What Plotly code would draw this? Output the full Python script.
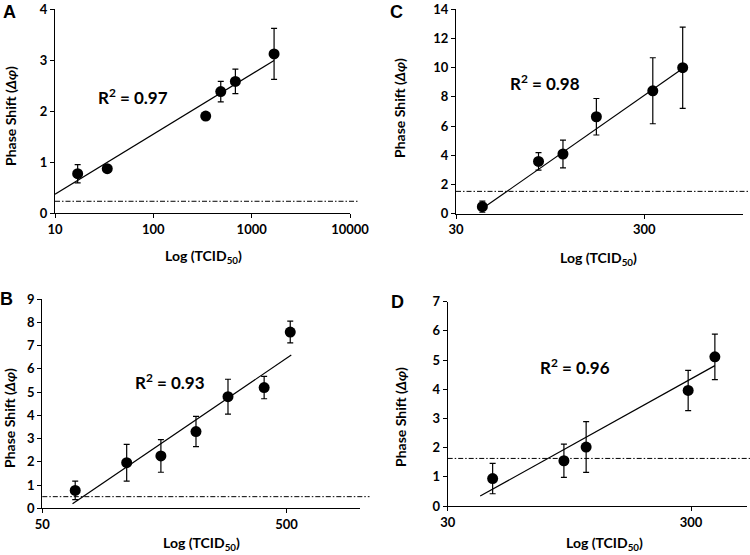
import plotly.graph_objects as go

# ---------------- data ----------------
A_tcid = [17, 34, 341, 485, 683, 1690]
A_shift = [0.77, 0.87, 1.90, 2.38, 2.58, 3.12]
A_err = [0.18, 0.03, 0.03, 0.20, 0.24, 0.50]
A_trend_x = [10, 1690]
A_trend_y = [0.37, 2.99]
A_cutoff = 0.23
A_ticks = [10, 100, 1000, 10000]

C_tcid = [41.4, 82.3, 111, 167, 333, 480]
C_shift = [0.48, 3.58, 4.09, 6.64, 8.42, 10.0]
C_err = [0.38, 0.60, 0.95, 1.25, 2.26, 2.78]
C_trend_x = [41.4, 480]
C_trend_y = [0.35, 9.95]
C_cutoff = 1.53
C_ticks = [30, 300]

B_tcid = [68.2, 110.8, 153, 213, 288, 405, 518]
B_shift = [0.77, 1.96, 2.25, 3.30, 4.80, 5.19, 7.58]
B_err = [0.40, 0.79, 0.70, 0.65, 0.75, 0.48, 0.47]
B_trend_x = [66.5, 523]
B_trend_y = [0.20, 6.59]
B_cutoff = 0.50
B_ticks = [50, 500]

D_tcid = [45.9, 90.1, 111.2, 292, 376]
D_shift = [0.94, 1.55, 2.02, 3.96, 5.11]
D_err = [0.52, 0.57, 0.87, 0.69, 0.78]
D_trend_x = [40.8, 376]
D_trend_y = [0.34, 4.81]
D_cutoff = 1.63
D_ticks = [30, 300]

r2_labels = ["R<sup>2</sup> = 0.97", "R<sup>2</sup> = 0.98", "R<sup>2</sup> = 0.93", "R<sup>2</sup> = 0.96"]
panel_letters = ["A", "C", "B", "D"]

W, H = 750, 555
FONT = "Lato"

panels = [
    dict(x=A_tcid, y=A_shift, e=A_err, tx=A_trend_x, ty=A_trend_y, cut=A_cutoff, ticks=A_ticks,
         xr=[1, 4], yr=[0, 4], dt=1, box=(55, 350, 9, 213),
         r2=(133, 96), letter=(9, 12), ytitle=(11, 116), xtitle=(203, 257)),
    dict(x=C_tcid, y=C_shift, e=C_err, tx=C_trend_x, ty=C_trend_y, cut=C_cutoff, ticks=C_ticks,
         xr=[1.4771, 3.0], yr=[0, 14], dt=2, box=(456, 742.7, 9.3, 213.7),
         r2=(545, 82), letter=(396, 12), ytitle=(399, 108), xtitle=(598, 258)),
    dict(x=B_tcid, y=B_shift, e=B_err, tx=B_trend_x, ty=B_trend_y, cut=B_cutoff, ticks=B_ticks,
         xr=[1.699, 3.0], yr=[0, 9], dt=1, box=(42.3, 360, 299, 508.3),
         r2=(170, 381), letter=(6, 299), ytitle=(9, 418), xtitle=(202, 543)),
    dict(x=D_tcid, y=D_shift, e=D_err, tx=D_trend_x, ty=D_trend_y, cut=D_cutoff, ticks=D_ticks,
         xr=[1.4771, 2.706], yr=[0, 7], dt=1, box=(447.7, 746.7, 301.7, 506),
         r2=(575, 366), letter=(398, 302), ytitle=(400, 417), xtitle=(604, 543)),
]

fig = go.Figure()
annotations = []
shapes = []
layout = {}


def ann(text, px, py, font, angle=0):
    return dict(text=text, x=px / W, y=1 - py / H, xref="paper", yref="paper",
                xanchor="center", yanchor="middle", showarrow=False, textangle=angle, font=font)


for i, p in enumerate(panels):
    n = "" if i == 0 else str(i + 1)
    xa, ya = "x" + n, "y" + n
    x0, x1, yt, yb = p["box"]
    fig.add_trace(go.Scatter(
        x=p["tx"], y=p["ty"], mode="lines", xaxis=xa, yaxis=ya,
        line=dict(color="black", width=1.2), showlegend=False, hoverinfo="skip"))
    fig.add_trace(go.Scatter(
        x=p["x"], y=p["y"], mode="markers", xaxis=xa, yaxis=ya,
        marker=dict(color="black", size=11),
        error_y=dict(type="data", array=p["e"], visible=True, color="black", thickness=1.2, width=3),
        showlegend=False))
    layout["xaxis" + n] = dict(
        type="log", range=p["xr"], domain=[x0 / W, x1 / W], anchor=ya, automargin=False,
        tickvals=p["ticks"], ticktext=[str(t) for t in p["ticks"]],
        showgrid=False, zeroline=False, showline=True, linecolor="black", linewidth=1.2,
        ticks="outside", ticklen=4, tickcolor="black",
        tickfont=dict(family=FONT, size=13, color="black", weight="bold"))
    layout["yaxis" + n] = dict(
        range=p["yr"], dtick=p["dt"], domain=[1 - yb / H, 1 - yt / H], anchor=xa, automargin=False,
        showgrid=False, zeroline=False, showline=True, linecolor="black", linewidth=1.2,
        ticks="outside", ticklen=4, tickcolor="black",
        tickfont=dict(family=FONT, size=13, color="black", weight="bold"))
    shapes.append(dict(type="line", xref=xa + " domain", yref=ya, x0=0, x1=1.03,
                       y0=p["cut"], y1=p["cut"],
                       line=dict(color="black", width=1, dash="5px,2px,1.5px,2px")))
    annotations.append(ann(r2_labels[i], *p["r2"], dict(family=FONT, size=17, color="black", weight="bold")))
    annotations.append(ann(panel_letters[i], *p["letter"],
                           dict(family="Liberation Sans", size=18, color="black", weight="bold")))
    annotations.append(ann("Phase Shift (<i>Δφ</i>)", *p["ytitle"],
                           dict(family=FONT, size=14, color="black", weight="bold"), angle=-90))
    annotations.append(ann("Log (TCID<sub>50</sub>)", *p["xtitle"],
                           dict(family=FONT, size=14, color="black", weight="bold")))

fig.update_layout(
    width=W, height=H, margin=dict(l=0, r=0, t=0, b=0),
    paper_bgcolor="white", plot_bgcolor="white",
    annotations=annotations, shapes=shapes, **layout)

fig.write_html("out.html", config={"displayModeBar": False},
               post_script="document.body.style.margin='0';document.body.style.overflow='hidden';")
